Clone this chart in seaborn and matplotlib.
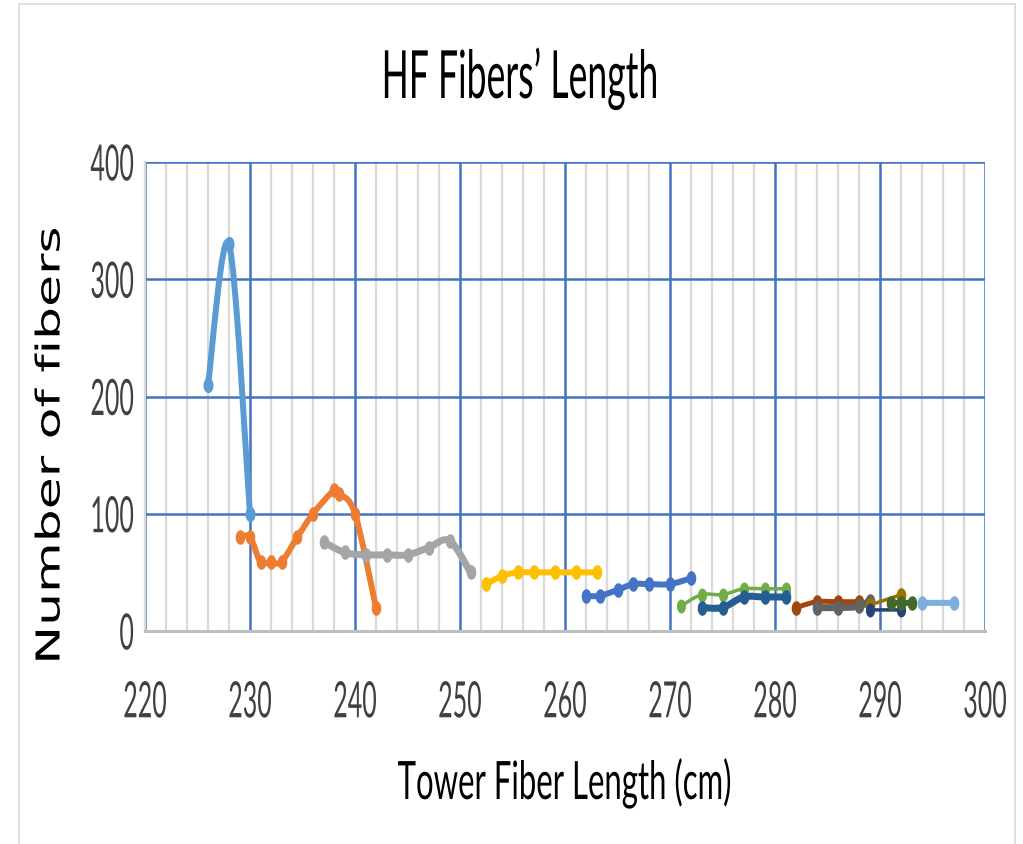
import numpy as np
import pandas as pd
import matplotlib
matplotlib.use("Agg")
import matplotlib.pyplot as plt
import matplotlib.patheffects as pe
import seaborn as sns
from matplotlib.path import Path
from matplotlib.patches import PathPatch, Rectangle
from matplotlib.markers import MarkerStyle
from matplotlib.ticker import MultipleLocator
from matplotlib.transforms import Affine2D

# ---- data: tower fiber length (cm) vs number of fibers, one run per group ----
len_1 = [226, 228, 230]
cnt_1 = [210, 330, 100]
len_2 = [229, 230, 231, 232, 233, 234.5, 236, 238, 238.5, 240, 242]
cnt_2 = [80, 80, 59, 59, 59, 80, 100, 120, 117, 100, 20]
len_3 = [237, 239, 241, 243, 245, 247, 249, 251]
cnt_3 = [76, 67, 65, 65, 65, 71, 77, 50]
len_4 = [252.5, 254, 255.5, 257, 259, 261, 263]
cnt_4 = [40, 47, 50, 50, 50, 50, 50]
len_5 = [262, 263.3, 265, 266.5, 268, 270, 272]
cnt_5 = [30, 30, 35, 40, 40, 40, 45]
len_6 = [271, 273, 275, 277, 279, 281]
cnt_6 = [21, 31, 31, 36, 36, 36]
len_7 = [273, 275, 277, 279, 281]
cnt_7 = [20, 20, 29, 29, 29]
len_8 = [282, 284, 286, 288]
cnt_8 = [20, 25, 25, 25]
len_9 = [284, 286, 288, 289]
cnt_9 = [20, 20, 21, 26]
len_10 = [289, 292]
cnt_10 = [22, 31]
len_11 = [289, 292]
cnt_11 = [18, 18]
len_12 = [291, 292, 293]
cnt_12 = [24, 24, 24]
len_13 = [294, 297]
cnt_13 = [24, 24]

series_len = [len_1, len_2, len_3, len_4, len_5, len_6, len_7,
              len_8, len_9, len_10, len_11, len_12, len_13]
series_cnt = [cnt_1, cnt_2, cnt_3, cnt_4, cnt_5, cnt_6, cnt_7,
              cnt_8, cnt_9, cnt_10, cnt_11, cnt_12, cnt_13]
series_colors = ["#5B9BD5", "#ED7D31", "#A5A5A5", "#FFC000", "#4472C4",
                 "#70AD47", "#255E91", "#9E480E", "#636363", "#997300",
                 "#264478", "#43682B", "#7CAFDD"]
line_px = [6, 6, 7, 6, 6, 3.5, 7, 5, 7, 3.5, 3.5, 6, 6]
marker_s = [120, 110, 110, 110, 110, 100, 110, 110, 110, 110, 100, 110, 110]

x_ticks = list(range(220, 301, 10))
y_ticks = list(range(0, 401, 100))

title_text = "HF Fibers\u2019 Length"
xlabel_text = "Tower Fiber Length (cm)"
ylabel_text = "Number of fibers"

W, H = 1023, 845


class Reshape(pe.AbstractPathEffect):
    """Scale glyph outlines (x and y separately) around an anchor point."""

    def __init__(self, sx=1.0, sy=1.0, anchor_x="center", anchor_y="center"):
        super().__init__()
        self.sx, self.sy = sx, sy
        self.anchor_x, self.anchor_y = anchor_x, anchor_y

    def draw_path(self, renderer, gc, tpath, affine, rgbFace=None):
        ext = tpath.get_extents(affine)
        origin = affine.transform(np.array([[0.0, 0.0]]))[0]
        cx = {"right": ext.x1, "left": ext.x0}.get(self.anchor_x, 0.5 * (ext.x0 + ext.x1))
        cy = origin[1] if self.anchor_y == "baseline" else 0.5 * (ext.y0 + ext.y1)
        t = affine + Affine2D().translate(-cx, -cy).scale(self.sx, self.sy).translate(cx, cy)
        renderer.draw_path(gc, tpath, t, rgbFace)


def smooth_path(xs, ys):
    """Cubic Bezier path through the points (Catmull-Rom style tangents)."""
    P = np.column_stack([xs, ys]).astype(float)
    n = len(P)
    verts = [P[0]]
    codes = [Path.MOVETO]
    for i in range(n - 1):
        p0 = P[i - 1] if i > 0 else P[i]
        p1, p2 = P[i], P[i + 1]
        p3 = P[i + 2] if i + 2 < n else P[i + 1]
        verts += [p1 + (p2 - p0) / 6.0, p2 - (p3 - p1) / 6.0, p2]
        codes += [Path.CURVE4] * 3
    return Path(verts, codes)


sns.set_theme(style="white")
plt.rcParams["font.family"] = ["Lato", "DejaVu Sans"]

fig = plt.figure(figsize=(W / 100, H / 100), dpi=100)
fig.patch.set_facecolor("white")
ax = fig.add_axes([145 / W, 1 - 632 / H, 840 / W, 469 / H])

theta = np.linspace(0, 2 * np.pi, 48)
oval = MarkerStyle(Path(np.column_stack([0.66 * np.cos(theta), np.sin(theta)]), closed=True))

for i, (xs, ys, c, lw, ms) in enumerate(zip(series_len, series_cnt, series_colors,
                                             line_px, marker_s)):
    ax.add_patch(PathPatch(smooth_path(xs, ys), facecolor="none", edgecolor=c,
                           lw=lw * 0.72, capstyle="round", joinstyle="round",
                           zorder=3 + 2 * i))
    df = pd.DataFrame({"length": xs, "count": ys})
    sns.scatterplot(data=df, x="length", y="count", color=c, marker=oval, s=ms,
                    linewidth=0, ax=ax, zorder=4 + 2 * i, legend=False)

ax.set_xlim(220, 300)
ax.set_ylim(0, 400)
ax.set_xticks(x_ticks)
ax.set_yticks(y_ticks)
ax.xaxis.set_minor_locator(MultipleLocator(2))
ax.set_axisbelow(True)
ax.grid(which="minor", axis="x", color="#D9D9D9", lw=1.6)
ax.grid(which="major", axis="both", color="#4472C4", lw=1.8)
for side in ("top", "right"):
    ax.spines[side].set_visible(False)
ax.spines["left"].set_color("#D9D9D9")
ax.spines["left"].set_linewidth(1.6)
ax.spines["bottom"].set_color("#BFBFBF")
ax.spines["bottom"].set_linewidth(2.2)
ax.set_xlabel("")
ax.set_ylabel("")

# tick labels: narrow natural width, glyphs stretched vertically
TICK_PT = 18
TICK_SY = 2.0
ax.tick_params(axis="both", which="both", length=0)
ax.tick_params(axis="x", pad=42, labelsize=TICK_PT, labelcolor="#404040")
ax.tick_params(axis="y", pad=8, labelsize=TICK_PT, labelcolor="#404040")
for lab in ax.get_xticklabels():
    lab.set_path_effects([Reshape(1.0, TICK_SY, "center", "center")])
for lab in ax.get_yticklabels():
    lab.set_path_effects([Reshape(1.0, TICK_SY, "right", "center")])

t = fig.text(520 / W, 1 - 99 / H, title_text, ha="center", va="baseline",
             fontsize=25.6, color="black")
t.set_path_effects([Reshape(1.0, 1.87, "center", "baseline")])
xl = fig.text(565 / W, 1 - 800 / H, xlabel_text, ha="center", va="baseline",
              fontsize=22.4, color="black")
xl.set_path_effects([Reshape(1.0, 1.70, "center", "baseline")])
yl = fig.text(50 / W, 1 - 446 / H, ylabel_text, ha="center", va="center",
              rotation=90, fontsize=23.7, color="black", family="DejaVu Sans")
yl.set_path_effects([Reshape(1.0, 1.58, "center", "center")])

# chart frame
fig.add_artist(Rectangle((19 / W, -0.02), (1015 - 19) / W, (845 - 5) / H + 0.02,
                         transform=fig.transFigure, fill=False,
                         edgecolor="#D9D9D9", lw=1.2))

fig.savefig("out.png", dpi=100)
